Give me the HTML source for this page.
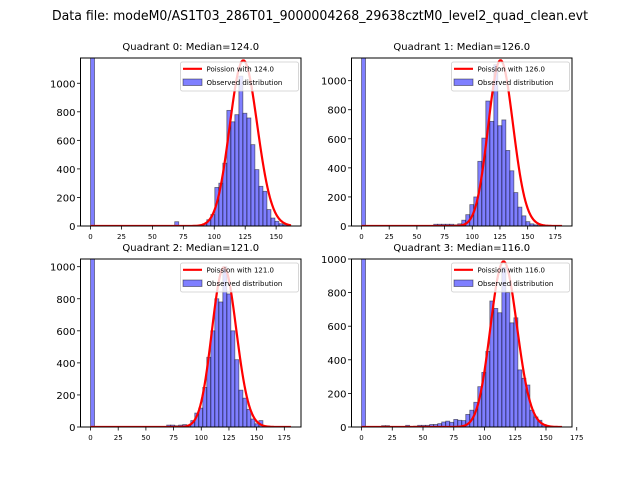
<!DOCTYPE html>
<html><head><meta charset="utf-8"><style>
html,body{margin:0;padding:0;background:#fff}
svg{display:block;font-family:"DejaVu Sans","Liberation Sans",sans-serif}
</style></head><body>
<svg id="fig" width="640" height="480" viewBox="0 0 640 480" xmlns="http://www.w3.org/2000/svg">
<rect width="640" height="480" fill="#fff"/>
<text x="320" y="20" text-anchor="middle" font-size="13" textLength="536" lengthAdjust="spacingAndGlyphs">Data file: modeM0/AS1T03_286T01_9000004268_29638cztM0_level2_quad_clean.evt</text>
</svg>
<script>
// ---- data ----
const quadNames = ["Quadrant 0", "Quadrant 1", "Quadrant 2", "Quadrant 3"];
const medians = [124.0, 126.0, 121.0, 116.0];
const dataMax = [162, 181, 181, 163];
const yMax = [1177, 1156, 1048, 1000];
const curvePeak = [1160, 1140, 995, 985];
const xTicksQ0 = [0, 25, 50, 75, 100, 125, 150];
const xTicksQ1 = [0, 25, 50, 75, 100, 125, 150, 175];
const xTicksQ2 = [0, 25, 50, 75, 100, 125, 150, 175];
const xTicksQ3 = [0, 25, 50, 75, 100, 125, 150, 175];
const yTicks = [0, 200, 400, 600, 800, 1000];
// histogram counts, 50 bins each
const countsQ0 = [5000,0,0,0,0,0,0,0,0,0, 0,0,0,0,0,0,0,0,0,0, 0,30,3,3,3,3,5,8,15,44, 80,270,300,440,810,730,780,1050,790,757, 570,395,278,243,115,56,33,16,9,3];
const countsQ1 = [5000,0,0,0,0,0,0,0,0,0, 0,0,0,0,0,0,0,0,12,12, 12,12,12,8,15,40,78,147,200,445, 605,860,720,1110,690,730,520,380,230,130, 70,30,15,8,3,2,1,1,1,1];
const countsQ2 = [5000,0,0,0,0,0,0,0,0,0, 0,0,0,0,0,0,0,0,0,12, 12,8,12,15,10,40,87,118,247,435, 600,800,780,1000,830,600,420,230,180,110, 50,20,40,0,0,0,0,0,0,0];
const countsQ3 = [5000,3,0,0,0,8,8,0,0,0, 0,10,0,5,10,10,10,15,15,20, 30,35,28,45,40,38,75,100,147,240, 325,450,750,706,680,950,800,620,650,340, 290,250,100,60,40,15,5,3,2,1];
const allCounts = [countsQ0, countsQ1, countsQ2, countsQ3];
const allXTicks = [xTicksQ0, xTicksQ1, xTicksQ2, xTicksQ3];
// ---- layout ----
const boxes = [
  {l:80.5, r:301, t:58, b:226},
  {l:351.5, r:572, t:58, b:226},
  {l:80.5, r:301, t:259, b:427},
  {l:351.5, r:572, t:259, b:427}
];
const NS = "http://www.w3.org/2000/svg";
const svg = document.getElementById("fig");
function mk(tag, attrs, parent){
  const e = document.createElementNS(NS, tag);
  for (const k in attrs) e.setAttribute(k, attrs[k]);
  (parent||svg).appendChild(e);
  return e;
}
function logFact(n){ let s=0; for(let i=2;i<=n;i++) s+=Math.log(i); return s; }
function logPmf(k, lam){ return k*Math.log(lam) - lam - logFact(k); }

for (let q=0;q<4;q++){
  const B = boxes[q];
  const M = dataMax[q];
  const x0 = -0.05*M, x1 = 1.05*M;
  const xs = v => B.l + (v - x0)/(x1 - x0)*(B.r - B.l);
  const ys = v => B.b - v/yMax[q]*(B.b - B.t);
  const g = mk("g", {});
  
  
  const cid = "clip"+q;
  const cp = mk("clipPath", {id:cid}, g);
  mk("rect", {x:B.l, y:B.t, width:B.r-B.l, height:B.b-B.t}, cp);
  // title
  const t = mk("text", {x:(B.l+B.r)/2, y:B.t-8, "text-anchor":"middle", "font-size":"10"}, g);
  t.textContent = quadNames[q] + ": Median=" + medians[q].toFixed(1);
  
  
  // bars
  const counts = allCounts[q];
  const bw = M / counts.length;
  const bg = mk("g", {"clip-path":"url(#"+cid+")"}, g);
  counts.forEach((c,i)=>{
    if (c <= 0) return;
    const xa = xs(i*bw), xb = xs((i+1)*bw);
    const yt = Math.max(ys(c), B.t-2);
    const r = mk("rect", {x:xa, y:yt, width:xb-xa, height:B.b-yt, fill:"#0000ff", "fill-opacity":"0.5", stroke:"#000", "stroke-opacity":"0.5", "stroke-width":"0.8"}, bg);
    
    
  });
  // poisson curve
  const lam = medians[q];
  const lp0 = logPmf(Math.round(lam), lam);
  let d = "";
  for (let k=0;k<=M;k++){
    const v = curvePeak[q]*Math.exp(logPmf(k,lam)-lp0);
    d += (k?"L":"M") + xs(k).toFixed(2) + "," + ys(v).toFixed(2);
  }
  const p = mk("path", {d:d, fill:"none", stroke:"#ff0000", "stroke-width":"2.2", "stroke-linejoin":"round", "clip-path":"url(#"+cid+")"}, g);
  
  
  // frame
  const fr = mk("rect", {x:B.l, y:B.t, width:B.r-B.l, height:B.b-B.t, fill:"none", stroke:"#000", "stroke-width":"1"}, g);
  
  
  // x ticks
  allXTicks[q].forEach(v=>{
    const x = xs(v);
    mk("line", {x1:x, x2:x, y1:B.b, y2:B.b+3.5, stroke:"#000", "stroke-width":"0.8"}, g);
    const tl = mk("text", {x:x, y:B.b+13, "text-anchor":"middle", "font-size":"7"}, g);
    tl.textContent = v;
    
    
  });
  // y ticks
  yTicks.forEach(v=>{
    if (v > yMax[q]) return;
    const y = ys(v);
    mk("line", {x1:B.l-3.5, x2:B.l, y1:y, y2:y, stroke:"#000", "stroke-width":"0.8"}, g);
    const tl = mk("text", {x:B.l-5, y:y+4, "text-anchor":"end", "font-size":"10"}, g);
    tl.textContent = v;
    
    
  });
  // legend
  const lg = mk("g", {}, g);
  
  
  const LX = B.l+100, LY = B.t+4;
  mk("rect", {x:LX, y:LY, width:118, height:29, fill:"#fff", "fill-opacity":"0.8", stroke:"#ccc", "stroke-width":"0.8", rx:"2"}, lg);
  mk("line", {x1:LX+2.5, x2:LX+21.5, y1:LY+6.8, y2:LY+6.8, stroke:"#ff0000", "stroke-width":"2.2"}, lg);
  const t1 = mk("text", {x:LX+26, y:LY+9.3, "font-size":"7"}, lg);
  t1.textContent = "Poission with " + medians[q].toFixed(1);
  
  
  mk("rect", {x:LX+2.5, y:LY+17, width:19, height:6.5, fill:"#0000ff", "fill-opacity":"0.5", stroke:"#000", "stroke-opacity":"0.5", "stroke-width":"0.8"}, lg);
  const t2 = mk("text", {x:LX+26, y:LY+23, "font-size":"7"}, lg);
  t2.textContent = "Observed distribution";
  
  
}
</script>
</body></html>
